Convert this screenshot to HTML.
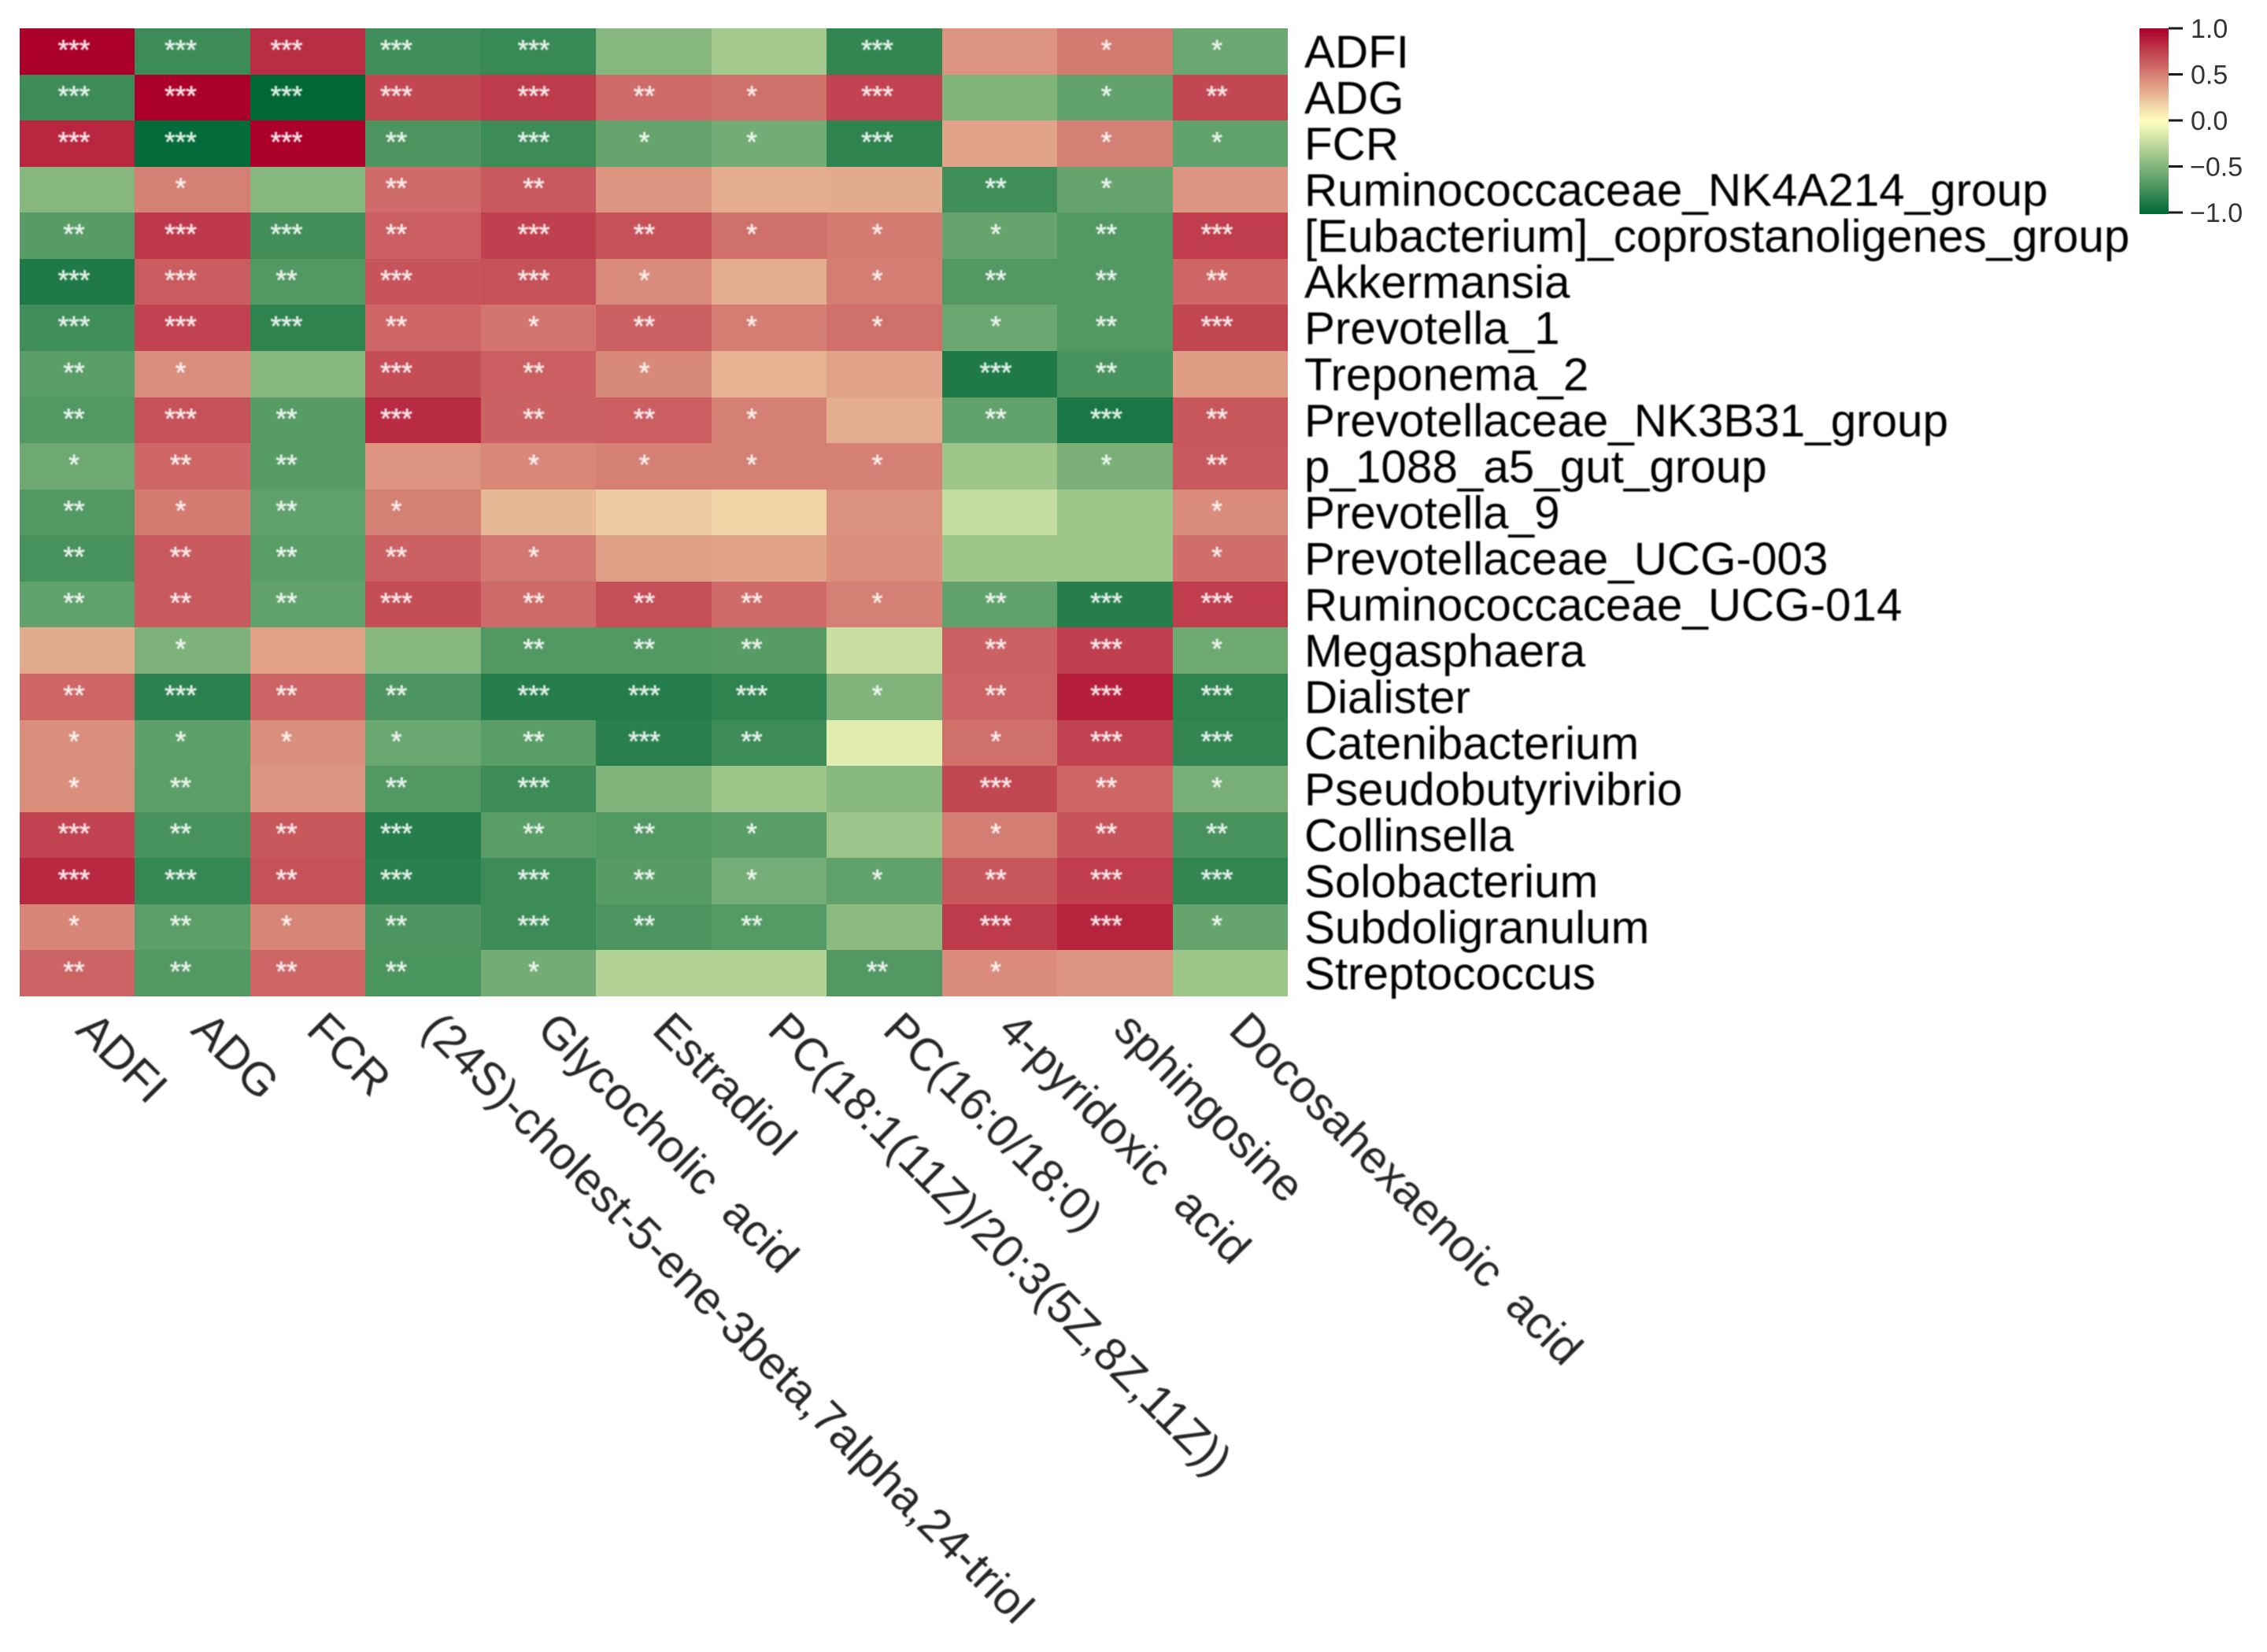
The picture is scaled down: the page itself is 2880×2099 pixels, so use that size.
<!DOCTYPE html>
<html lang="en">
<head>
<meta charset="utf-8">
<title>Correlation heatmap</title>
<style>
html,body{margin:0;padding:0;background:#fff;}
svg{display:block;font-family:"Liberation Sans",Arial,sans-serif;}
</style>
</head>
<body>
<svg id="chart" xmlns="http://www.w3.org/2000/svg" width="2880" height="2099" viewBox="0 0 2880 2099">
<rect x="0" y="0" width="2880" height="2099" fill="#ffffff"/>
<defs>
<linearGradient id="cbar-gradient" x1="0" y1="0" x2="0" y2="1">
<stop offset="0" stop-color="#ab0029"/>
<stop offset="0.5" stop-color="#ffffbf"/>
<stop offset="1" stop-color="#006837"/>
</linearGradient>
<filter id="soften" x="-2%" y="-2%" width="104%" height="104%">
<feGaussianBlur stdDeviation="0.7"/>
</filter>
</defs>
<g id="cells"></g>
<g id="stars" filter="url(#soften)"></g>
<g id="row-labels" filter="url(#soften)"></g>
<g id="col-labels" filter="url(#soften)"></g>
<g id="colorbar">
<rect x="2718" y="36" width="37" height="236" fill="url(#cbar-gradient)"/>
</g>
</svg>
<script>
const rowLabels = ["ADFI","ADG","FCR","Ruminococcaceae_NK4A214_group","[Eubacterium]_coprostanoligenes_group","Akkermansia","Prevotella_1","Treponema_2","Prevotellaceae_NK3B31_group","p_1088_a5_gut_group","Prevotella_9","Prevotellaceae_UCG-003","Ruminococcaceae_UCG-014","Megasphaera","Dialister","Catenibacterium","Pseudobutyrivibrio","Collinsella","Solobacterium","Subdoligranulum","Streptococcus"];
const colLabels = ["ADFI","ADG","FCR","(24S)-cholest-5-ene-3beta,7alpha,24-triol","Glycocholic\u00A0 acid","Estradiol","PC(18:1(11Z)/20:3(5Z,8Z,11Z))","PC(16:0/18:0)","4-pyridoxic\u00A0 acid","sphingosine","Docosahexaenoic\u00A0 acid"];
const values = [
[1.00,-0.76,0.82,-0.75,-0.78,-0.48,-0.36,-0.80,0.42,0.52,-0.58],
[-0.76,1.00,-1.00,0.72,0.77,0.58,0.56,0.74,-0.50,-0.62,0.72],
[0.85,-0.98,1.00,-0.70,-0.76,-0.60,-0.55,-0.82,0.36,0.50,-0.62],
[-0.48,0.50,-0.48,0.58,0.65,0.41,0.32,0.33,-0.75,-0.60,0.41],
[-0.66,0.78,-0.74,0.63,0.75,0.68,0.56,0.52,-0.60,-0.68,0.76],
[-0.88,0.64,-0.68,0.67,0.68,0.45,0.32,0.51,-0.68,-0.68,0.60],
[-0.75,0.74,-0.82,0.60,0.54,0.62,0.51,0.56,-0.58,-0.68,0.73],
[-0.65,0.44,-0.47,0.70,0.63,0.46,0.30,0.36,-0.88,-0.72,0.39],
[-0.68,0.68,-0.66,0.83,0.62,0.63,0.50,0.32,-0.62,-0.90,0.66],
[-0.57,0.60,-0.66,0.42,0.47,0.50,0.50,0.50,-0.38,-0.52,0.65],
[-0.68,0.52,-0.62,0.50,0.28,0.20,0.17,0.43,-0.23,-0.38,0.45],
[-0.72,0.65,-0.65,0.62,0.53,0.38,0.36,0.44,-0.38,-0.38,0.57],
[-0.62,0.65,-0.62,0.70,0.58,0.69,0.58,0.50,-0.62,-0.85,0.76],
[0.33,-0.51,0.37,-0.48,-0.68,-0.68,-0.66,-0.21,0.62,0.75,-0.57],
[0.60,-0.83,0.61,-0.70,-0.86,-0.86,-0.82,-0.50,0.61,0.88,-0.82],
[0.44,-0.63,0.44,-0.58,-0.65,-0.84,-0.76,-0.12,0.56,0.74,-0.80],
[0.44,-0.64,0.41,-0.68,-0.76,-0.50,-0.38,-0.48,0.72,0.60,-0.53],
[0.74,-0.72,0.66,-0.86,-0.65,-0.68,-0.65,-0.39,0.51,0.67,-0.72],
[0.84,-0.79,0.68,-0.84,-0.76,-0.66,-0.54,-0.62,0.66,0.76,-0.80],
[0.48,-0.64,0.48,-0.70,-0.76,-0.70,-0.67,-0.45,0.77,0.86,-0.60],
[0.61,-0.68,0.60,-0.71,-0.55,-0.30,-0.30,-0.68,0.45,0.41,-0.38]
];
const starCounts = [
[3,3,3,3,3,0,0,3,0,1,1],
[3,3,3,3,3,2,1,3,0,1,2],
[3,3,3,2,3,1,1,3,0,1,1],
[0,1,0,2,2,0,0,0,2,1,0],
[2,3,3,2,3,2,1,1,1,2,3],
[3,3,2,3,3,1,0,1,2,2,2],
[3,3,3,2,1,2,1,1,1,2,3],
[2,1,0,3,2,1,0,0,3,2,0],
[2,3,2,3,2,2,1,0,2,3,2],
[1,2,2,0,1,1,1,1,0,1,2],
[2,1,2,1,0,0,0,0,0,0,1],
[2,2,2,2,1,0,0,0,0,0,1],
[2,2,2,3,2,2,2,1,2,3,3],
[0,1,0,0,2,2,2,0,2,3,1],
[2,3,2,2,3,3,3,1,2,3,3],
[1,1,1,1,2,3,2,0,1,3,3],
[1,2,0,2,3,0,0,0,3,2,1],
[3,2,2,3,2,2,1,0,1,2,2],
[3,3,2,3,3,2,1,1,2,3,3],
[1,2,1,2,3,2,2,0,3,3,1],
[2,2,2,2,1,0,0,2,1,0,0]
];
const colorbarTicks = [1.0, 0.5, 0.0, -0.5, -1.0];

const svgNS = "http://www.w3.org/2000/svg";
const plot = {left: 25, right: 1636, top: 36, bottom: 1266};
const nRows = rowLabels.length;
const nCols = colLabels.length;
function xEdge(i) { return plot.left + (plot.right - plot.left) * i / nCols; }
function yEdge(i) { return plot.top + (plot.bottom - plot.top) * i / nRows; }
function cbarY(v) { return 36 + (1 - v) / 2 * 234; }
function mix(a, b, t) { return Math.round(a + (b - a) * t); }
function cellColor(v) {
  const t = Math.min(1, Math.abs(v));
  const mid = [255, 255, 191];
  const end = v >= 0 ? [171, 0, 41] : [0, 104, 55];
  return "rgb(" + mix(mid[0], end[0], t) + "," + mix(mid[1], end[1], t) + "," + mix(mid[2], end[2], t) + ")";
}
function make(tag, attrs, parent, text) {
  const el = document.createElementNS(svgNS, tag);
  for (const k in attrs) el.setAttribute(k, attrs[k]);
  if (text !== undefined) el.textContent = text;
  parent.appendChild(el);
  return el;
}
const starShiftByColumn = [-4, -15, -27, -34, -6, -12, -22, -9, -5, -11, -17];
const cellsG = document.getElementById("cells");
const starsG = document.getElementById("stars");
values.forEach(function (row, r) {
  row.forEach(function (v, c) {
    const x0 = Math.round(xEdge(c)), x1 = Math.round(xEdge(c + 1));
    const y0 = Math.round(yEdge(r)), y1 = Math.round(yEdge(r + 1));
    const cell = make("rect", {x: x0, y: y0, width: x1 - x0, height: y1 - y0, fill: cellColor(v), "shape-rendering": "crispEdges"}, cellsG);
    
    
    const n = starCounts[r][c];
    if (n > 0) {
      const s = make("text", {
        x: (x0 + x1) / 2 + starShiftByColumn[c],
        y: (y0 + y1) / 2 + 10,
        "text-anchor": "middle",
        "font-size": 35,
        fill: "#ffffff",
        "fill-opacity": 0.85,
        stroke: "#ffffff",
        "stroke-opacity": 0.6,
        "stroke-width": 0.9
      }, starsG, "*".repeat(n));
      
      
    }
  });
});
const rowG = document.getElementById("row-labels");
rowLabels.forEach(function (name, r) {
  const t = make("text", {x: 1657, y: (yEdge(r) + yEdge(r + 1)) / 2 + 20.5, "font-size": 58.4, fill: "#000000"}, rowG, name);
  
  
});
const colG = document.getElementById("col-labels");
colLabels.forEach(function (name, c) {
  const px = (xEdge(c) + xEdge(c + 1)) / 2 - 4;
  const py = 1311;
  const t = make("text", {x: px, y: py, "font-size": 58.4, fill: "#262626", transform: "rotate(45 " + px + " " + py + ")"}, colG, name);
  
  
});
const cbarG = document.getElementById("colorbar");
colorbarTicks.forEach(function (v) {
  const y = cbarY(v);
  const tick = make("line", {x1: 2755, x2: 2773, y1: y, y2: y, stroke: "#1a1a1a", "stroke-width": 3}, cbarG);
  
  
  const label = (v < 0 ? "\u2212" : "") + Math.abs(v).toFixed(1);
  const t = make("text", {x: v < 0 ? 2782 : 2783, y: y + 12, "font-size": 34, fill: "#333333"}, cbarG, label);
  
  
});
</script>
</body>
</html>
